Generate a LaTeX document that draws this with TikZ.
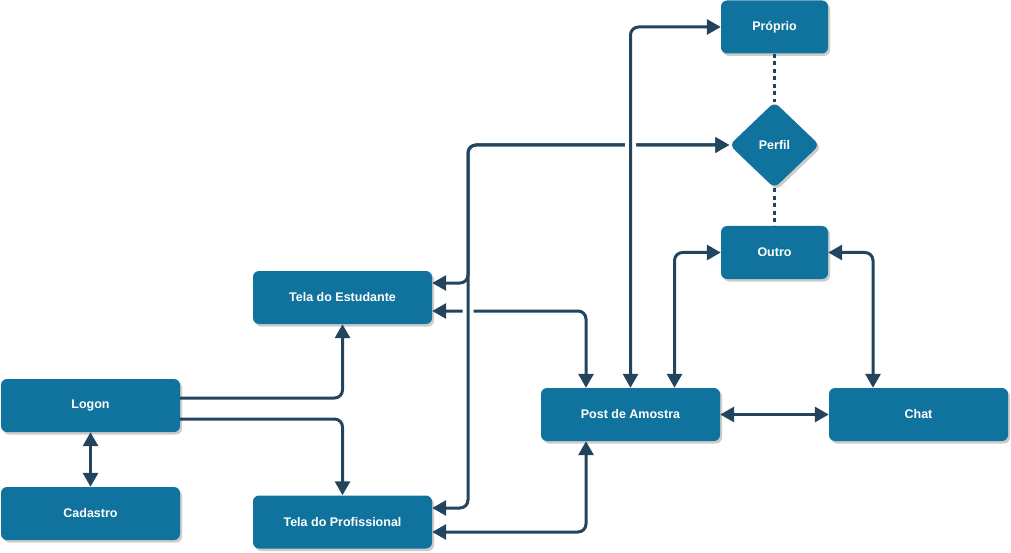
\documentclass[tikz,border=0pt]{standalone}
\usepackage{fontspec}
\setmainfont{Liberation Sans}
\usetikzlibrary{arrows.meta,shapes.geometric,shadows,positioning}
\definecolor{boxblue}{HTML}{10739E}
\definecolor{linkblue}{HTML}{23445D}
\begin{document}
\begin{tikzpicture}[x=1pt,y=-1pt,line join=round,>={Triangle[length=14pt,width=15pt]},
  font=\bfseries\fontsize{12.5}{15}\selectfont,
  box/.style={rectangle,rounded corners=6pt,fill=boxblue,text=white,minimum width=179pt,minimum height=53pt,
    drop shadow={shadow xshift=2pt,shadow yshift=-2.5pt,fill=black,opacity=0.2}},
  smallbox/.style={box,minimum width=107pt},
  choice/.style={diamond,rounded corners=6pt,fill=boxblue,text=white,inner sep=0pt,minimum width=90pt,minimum height=86pt,
    drop shadow={shadow xshift=2pt,shadow yshift=-2.5pt,fill=black,opacity=0.2}},
  link/.style={draw=linkblue,line width=3pt,rounded corners=8pt,<->},
  oneway/.style={link,->},
  jump/.style={preaction={draw=white,line width=11pt,arrows=-,shorten <=16pt,shorten >=16pt}},
  dotline/.style={draw=linkblue,line width=3pt,dash pattern=on 4pt off 3.5pt}]
\useasboundingbox (0,0) rectangle (1011,553);
\node[box] (logon) at (90.5,405.5) {Logon};
\node[box] (cadastro) at (90.5,513.5) {Cadastro};
\node[box] (estudante) at (342.5,297.5) {Tela do Estudante};
\node[box] (profissional) at (342.5,522) {Tela do Profissional};
\node[box] (post) at (630.5,414.5) {Post de Amostra};
\node[box] (chat) at (918.5,414.5) {Chat};
\node[smallbox] (proprio) at (774.5,27) {Próprio};
\node[choice] (perfil) at (774.5,145) {Perfil};
\node[smallbox] (outro) at (774.5,252.5) {Outro};
\coordinate (bus) at (468,145);
% login side
\draw[link] (logon.south) -- (cadastro.north);
\draw[oneway] ([yshift=7.5pt]logon.east) -| (estudante.south);
\draw[oneway] ([yshift=-13.5pt]logon.east) -| (profissional.north);
% telas
\draw[link] ([yshift=-13.5pt]estudante.east) -| ([xshift=-44.5pt]post.north);
\draw[link] ([yshift=-10pt]profissional.east) -| ([xshift=-44.5pt]post.south);
\draw[link,jump] ([yshift=14pt]profissional.east) -| (bus) -- (perfil.west);
\draw[link] ([yshift=14.5pt]estudante.east) -| (bus) -- (perfil.west);
% post
\draw[link,jump] (post.north) |- (proprio.west);
\draw[link] ([xshift=44pt]post.north) |- (outro.west);
\draw[link] (post.east) -- (chat.west);
\draw[link] (outro.east) -| ([xshift=-45.5pt]chat.north);
% perfil
\draw[dotline] (proprio.south) -- (perfil.north);
\draw[dotline] (perfil.south) -- (outro.north);
\end{tikzpicture}
\end{document}
